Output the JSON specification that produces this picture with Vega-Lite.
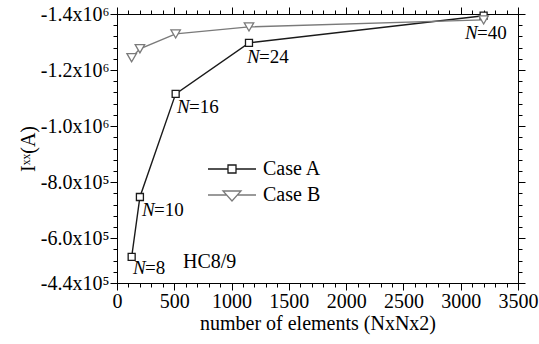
{
  "$schema": "https://vega.github.io/schema/vega-lite/v6.json",
  "width": 401,
  "height": 269,
  "autosize": {"type": "none"},
  "padding": {"left": 117, "top": 14, "right": 21, "bottom": 61},
  "background": "white",
  "config": {"view": {"stroke": null}, "axis": {"grid": false, "domainColor": "black"}},
  "data": {"values": [
    {"series": "Case A", "elements": 128, "value": -533000},
    {"series": "Case A", "elements": 200, "value": -747000},
    {"series": "Case A", "elements": 512, "value": -1115000},
    {"series": "Case A", "elements": 1152, "value": -1297000},
    {"series": "Case A", "elements": 3200, "value": -1394000},
    {"series": "Case B", "elements": 128, "value": -1244000},
    {"series": "Case B", "elements": 200, "value": -1276000},
    {"series": "Case B", "elements": 512, "value": -1329000},
    {"series": "Case B", "elements": 1152, "value": -1354000},
    {"series": "Case B", "elements": 3200, "value": -1379000}
  ]},
  "resolve": {"axis": {"x": "independent", "y": "independent"}},
  "layer": [
    {
      "mark": {"type": "line", "strokeWidth": 1.4},
      "encoding": {
        "x": {
          "field": "elements", "type": "quantitative",
          "scale": {"domain": [0, 3500], "nice": false},
          "axis": {
            "orient": "bottom",
            "values": [0, 500, 1000, 1500, 2000, 2500, 3000, 3500],
            "format": "d",
            "tickSize": 7, "tickColor": "black", "tickWidth": 1,
            "labelOverlap": false, "labelFlush": false,
            "labelFont": "Liberation Serif", "labelFontSize": 20, "labelColor": "black", "labelPadding": 1,
            "title": "number of elements (NxNx2)",
            "titleFont": "Liberation Serif", "titleFontSize": 20, "titleFontWeight": "normal", "titleColor": "black", "titlePadding": 2
          }
        },
        "y": {
          "field": "value", "type": "quantitative",
          "scale": {"domain": [-1400000, -440000], "nice": false, "zero": false, "reverse": true},
          "axis": {
            "orient": "left",
            "values": [-1400000, -1200000, -1000000, -800000, -600000, -440000],
            "tickSize": 7, "tickColor": "black", "tickWidth": 1,
            "labelOverlap": false, "labelFlush": false,
            "labelFont": "Liberation Serif", "labelFontSize": 20, "labelColor": "black", "labelPadding": 1,
            "labelExpr": "datum.value <= -1000000 ? '-' + format(-datum.value/1000000, '.1f') + 'x10⁶' : '-' + format(-datum.value/100000, '.1f') + 'x10⁵'",
            "title": "Iˣˣ(A)",
            "titleFont": "Liberation Serif", "titleFontSize": 20, "titleFontWeight": "normal", "titleColor": "black", "titlePadding": 2
          }
        },
        "stroke": {
          "field": "series", "type": "nominal",
          "scale": {"domain": ["Case A", "Case B"], "range": ["#1a1a1a", "#7a7a7a"]},
          "legend": {
            "orient": "none",
            "legendX": 104,
            "legendY": 144,
            "title": null,
            "symbolSize": 400,
            "symbolStrokeWidth": 1.3,
            "symbolFillColor": "white",
            "labelFont": "Liberation Serif",
            "labelFontSize": 20,
            "labelColor": "black",
            "labelOffset": 20,
            "rowPadding": 5,
            "encode": {
              "symbols": {
                "update": {
                  "shape": {"signal": "datum.value === 'Case A' ? 'M-2.4,0H-0.4M0.4,0H2.4M-0.4,-0.4H0.4V0.4H-0.4Z' : 'M-2.4,0H-0.54M0.54,0H2.4M-0.9,-0.4H0.9L0,0.6Z'"},
                  "fill": {"value": "white"}
                }
              }
            }
          }
        }
      }
    },
    {
      "transform": [{"filter": "datum.series === 'Case A'"}],
      "mark": {"type": "point", "shape": "square", "size": 49, "fill": "white", "fillOpacity": 1, "stroke": "#1a1a1a", "strokeWidth": 1.3, "opacity": 1},
      "encoding": {
        "x": {
          "field": "elements", "type": "quantitative",
          "axis": {"orient": "top", "values": [0, 500, 1000, 1500, 2000, 2500, 3000, 3500], "tickSize": 7, "tickColor": "black", "tickWidth": 1, "labels": false, "title": null}
        },
        "y": {
          "field": "value", "type": "quantitative",
          "axis": {"orient": "right", "values": [-1400000, -1200000, -1000000, -800000, -600000, -440000], "tickSize": 7, "tickColor": "black", "tickWidth": 1, "labels": false, "title": null}
        }
      }
    },
    {
      "transform": [{"filter": "datum.series === 'Case B'"}],
      "mark": {"type": "point", "shape": "triangle-down", "size": 90, "fill": "white", "fillOpacity": 1, "stroke": "#7a7a7a", "strokeWidth": 1.3, "opacity": 1},
      "encoding": {
        "x": {
          "field": "elements", "type": "quantitative",
          "axis": {"orient": "bottom", "values": [100,200,300,400,600,700,800,900,1100,1200,1300,1400,1600,1700,1800,1900,2100,2200,2300,2400,2600,2700,2800,2900,3100,3200,3300,3400], "tickSize": 4, "tickColor": "black", "tickWidth": 1, "labels": false, "title": null}
        },
        "y": {
          "field": "value", "type": "quantitative",
          "axis": {"orient": "left", "values": [-1360000,-1320000,-1280000,-1240000,-1160000,-1120000,-1080000,-1040000,-960000,-920000,-880000,-840000,-760000,-720000,-680000,-640000,-560000,-520000,-480000], "tickSize": 4, "tickColor": "black", "tickWidth": 1, "labels": false, "title": null}
        }
      }
    },
    {
      "data": {"values": [
        {"elements": 140, "value": -494000, "t": "=8"},
        {"elements": 218, "value": -701000, "t": "=10"},
        {"elements": 524, "value": -1069000, "t": "=16"},
        {"elements": 1134, "value": -1247000, "t": "=24"},
        {"elements": 3037, "value": -1333000, "t": "=40"}
      ]},
      "mark": {"type": "text", "text": "N", "fontStyle": "italic", "font": "Liberation Serif", "fontSize": 19, "align": "left", "baseline": "middle", "color": "black"},
      "encoding": {
        "x": {
          "field": "elements", "type": "quantitative",
          "axis": {"orient": "top", "values": [100,200,300,400,600,700,800,900,1100,1200,1300,1400,1600,1700,1800,1900,2100,2200,2300,2400,2600,2700,2800,2900,3100,3200,3300,3400], "tickSize": 4, "tickColor": "black", "tickWidth": 1, "labels": false, "title": null}
        },
        "y": {
          "field": "value", "type": "quantitative",
          "axis": {"orient": "right", "values": [-1360000,-1320000,-1280000,-1240000,-1160000,-1120000,-1080000,-1040000,-960000,-920000,-880000,-840000,-760000,-720000,-680000,-640000,-560000,-520000,-480000], "tickSize": 4, "tickColor": "black", "tickWidth": 1, "labels": false, "title": null}
        }
      }
    },
    {
      "data": {"values": [
        {"elements": 140, "value": -494000, "t": "=8"},
        {"elements": 218, "value": -701000, "t": "=10"},
        {"elements": 524, "value": -1069000, "t": "=16"},
        {"elements": 1134, "value": -1247000, "t": "=24"},
        {"elements": 3037, "value": -1333000, "t": "=40"}
      ]},
      "mark": {"type": "text", "font": "Liberation Serif", "fontSize": 19, "align": "left", "baseline": "middle", "dx": 12, "color": "black"},
      "encoding": {
        "x": {"field": "elements", "type": "quantitative", "axis": null},
        "y": {"field": "value", "type": "quantitative", "axis": null},
        "text": {"field": "t"}
      }
    },
    {
      "data": {"values": [{"elements": 576, "value": -515000, "t": "HC8/9"}]},
      "mark": {"type": "text", "font": "Liberation Serif", "fontSize": 20, "align": "left", "baseline": "middle", "color": "black"},
      "encoding": {
        "x": {"field": "elements", "type": "quantitative", "axis": null},
        "y": {"field": "value", "type": "quantitative", "axis": null},
        "text": {"field": "t"}
      }
    }
  ]
}
